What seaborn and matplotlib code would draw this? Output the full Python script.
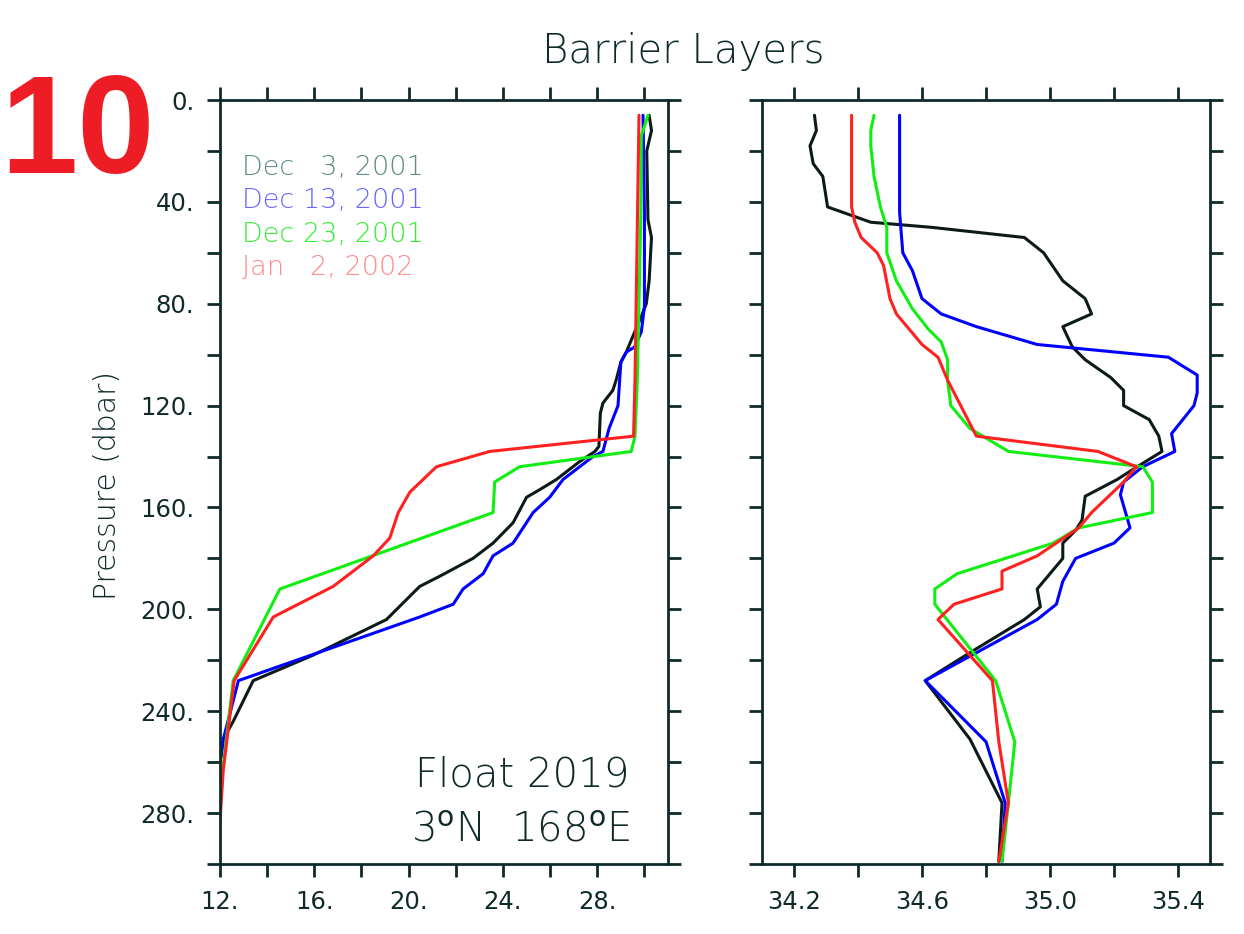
import numpy as np
import pandas as pd
import matplotlib
matplotlib.use("Agg")
import matplotlib.pyplot as plt
import seaborn as sns

# ---------------- data ----------------
dates = ["Dec   3, 2001", "Dec 13, 2001", "Dec 23, 2001", "Jan   2, 2002"]

# Temperature profiles (left panel)
p_t_dec03 = [6, 12, 20, 47, 54, 71, 80, 85, 93, 99, 103, 110, 114, 119, 123, 136, 138, 142,
             149, 153, 156, 166, 174, 180, 187, 191, 204, 218, 228, 244, 251, 258]
t_dec03 = [30.2, 30.3, 30.1, 30.15, 30.3, 30.2, 30.08, 29.87, 29.5, 29.23, 29.0, 28.8, 28.66,
           28.24, 28.13, 28.07, 27.9, 27.25, 26.27, 25.56, 25.0, 24.43, 23.58, 22.73, 21.32,
           20.47, 19.06, 15.95, 13.41, 12.56, 12.14, 12.05]

p_t_dec13 = [6, 44, 81, 91, 97, 99, 103, 110, 120, 129, 138, 140, 149, 156, 162, 174, 179,
             186, 192, 198, 203, 228, 251, 260]
t_dec13 = [29.94, 30.0, 30.0, 29.87, 29.58, 29.23, 29.0, 28.95, 28.88, 28.5, 28.24, 27.82,
           26.55, 25.98, 25.28, 24.43, 23.58, 23.16, 22.31, 21.89, 20.47, 12.78, 12.14, 12.0]

p_t_dec23 = [6, 14, 44, 110, 132, 138, 144, 150, 162, 192, 228, 261, 270]
t_dec23 = [30.15, 29.87, 29.85, 29.7, 29.6, 29.44, 24.71, 23.65, 23.58, 14.54, 12.56, 12.14, 12.0]

p_t_jan02 = [6, 110, 132, 138, 144, 154, 162, 172, 179, 191, 203, 228, 263, 283]
t_jan02 = [29.77, 29.6, 29.54, 23.44, 21.18, 20.05, 19.56, 19.2, 18.5, 16.8, 14.26, 12.6,
           12.14, 12.0]

# Salinity profiles (right panel)
p_s_dec03 = [6, 12, 18, 25, 30, 42, 48, 50, 54, 60, 71, 78, 84, 89, 97, 102, 109, 114, 120,
             125.5, 132, 138, 145, 149, 155.6, 165, 169, 174, 180, 192, 199, 204, 217, 228,
             251, 276, 299]
s_dec03 = [34.264, 34.27, 34.25, 34.26, 34.29, 34.305, 34.44, 34.63, 34.92, 34.98, 35.04,
           35.11, 35.13, 35.04, 35.07, 35.11, 35.19, 35.23, 35.23, 35.31, 35.34, 35.35, 35.26,
           35.21, 35.11, 35.10, 35.08, 35.04, 35.04, 34.96, 34.97, 34.92, 34.75, 34.61,
           34.75, 34.85, 34.84]

p_s_dec13 = [6, 44, 60, 67, 78, 84, 89, 96, 101, 108, 115, 120, 131, 138, 144, 150, 155, 168,
             174, 180, 189, 198, 204, 228, 252, 276, 299]
s_dec13 = [34.53, 34.53, 34.54, 34.57, 34.60, 34.66, 34.77, 34.96, 35.37, 35.46, 35.46, 35.45,
           35.38, 35.39, 35.29, 35.23, 35.22, 35.25, 35.20, 35.08, 35.04, 35.02, 34.96, 34.61,
           34.80, 34.86, 34.85]

p_s_dec23 = [6, 12, 18, 30, 42, 50, 60, 71, 82, 90, 95, 102, 110, 120, 129, 138, 144, 150,
             162, 168, 174, 186, 192, 198, 228, 252, 276, 299]
s_dec23 = [34.45, 34.44, 34.44, 34.45, 34.47, 34.49, 34.49, 34.52, 34.57, 34.62, 34.66, 34.68,
           34.68, 34.69, 34.75, 34.87, 35.29, 35.32, 35.32, 35.09, 35.01, 34.71, 34.64, 34.64,
           34.83, 34.89, 34.87, 34.85]

p_s_jan02 = [6, 42, 48, 54, 60, 65, 78, 84, 96, 101, 110, 132, 138, 144, 150, 162, 168, 179,
             185, 192, 198, 204, 228, 252, 276, 299]
s_jan02 = [34.38, 34.38, 34.39, 34.41, 34.46, 34.48, 34.50, 34.52, 34.60, 34.65, 34.68, 34.77,
           35.15, 35.27, 35.23, 35.13, 35.09, 34.96, 34.85, 34.85, 34.70, 34.65, 34.82, 34.84,
           34.87, 34.84]

temp_x_ticks = [12, 14, 16, 18, 20, 22, 24, 26, 28, 30]
temp_x_labels = ["12.", "", "16.", "", "20.", "", "24.", "", "28.", ""]
sal_x_ticks = [34.2, 34.4, 34.6, 34.8, 35.0, 35.2, 35.4]
sal_x_labels = ["34.2", "", "34.6", "", "35.0", "", "35.4"]
p_ticks = list(range(0, 301, 20))
p_labels = ["0.", "", "40.", "", "80.", "", "120.", "", "160.", "", "200.", "", "240.", "",
            "280.", ""]

# ---------------- styling ----------------
line_colors = ["#0c1a1a", "#0000ff", "#11ee11", "#ff2020"]
legend_colors = ["#5e8c86", "#6666ff", "#33ee33", "#ff8a8a"]
ink = "#0f2a2a"

sns.set_style("ticks")
plt.rcParams["font.family"] = ["DejaVu Sans"]
plt.rcParams["mathtext.fontset"] = "dejavusans"

temp_df = pd.concat([
    pd.DataFrame({"T": t, "p": p, "date": d, "order": np.arange(len(p))})
    for t, p, d in zip([t_dec03, t_dec13, t_dec23, t_jan02],
                       [p_t_dec03, p_t_dec13, p_t_dec23, p_t_jan02], dates)
], ignore_index=True)
sal_df = pd.concat([
    pd.DataFrame({"S": s, "p": p, "date": d, "order": np.arange(len(p))})
    for s, p, d in zip([s_dec03, s_dec13, s_dec23, s_jan02],
                       [p_s_dec03, p_s_dec13, p_s_dec23, p_s_jan02], dates)
], ignore_index=True)

palette = dict(zip(dates, line_colors))

fig = plt.figure(figsize=(12.44, 9.34), dpi=100)
fig.patch.set_facecolor("white")
ax1 = fig.add_axes([220 / 1244, 1 - 864 / 934, 448 / 1244, 764 / 934])
ax2 = fig.add_axes([762 / 1244, 1 - 864 / 934, 448 / 1244, 764 / 934])

sns.lineplot(data=temp_df, x="T", y="p", hue="date", palette=palette, estimator=None,
             sort=False, units="date", legend=False, ax=ax1, linewidth=2.2)
sns.lineplot(data=sal_df, x="S", y="p", hue="date", palette=palette, estimator=None,
             sort=False, units="date", legend=False, ax=ax2, linewidth=2.2)

for ax in (ax1, ax2):
    ax.set_ylim(300, 0)
    ax.set_yticks(p_ticks)
    ax.set_xlabel("")
    ax.set_ylabel("")
    for sp in ax.spines.values():
        sp.set_visible(True)
        sp.set_linewidth(2.0)
        sp.set_color(ink)
    ax.tick_params(which="both", direction="out", top=True, right=True, bottom=True,
                   left=True, labeltop=False, labelright=False, length=9.5, width=2.0,
                   color=ink, labelcolor=ink, labelsize=17.5, pad=9)

ax1.set_xlim(12, 31)
ax1.set_xticks(temp_x_ticks)
ax1.set_xticklabels(temp_x_labels)
ax1.set_yticklabels(p_labels)

ax2.set_xlim(34.1, 35.5)
ax2.set_xticks(sal_x_ticks)
ax2.set_xticklabels(sal_x_labels)
ax2.set_yticklabels([""] * len(p_ticks))

# legend as coloured text
legend_y = [0.9018, 0.8586, 0.8141, 0.7709]
for d, c, y in zip(dates, legend_colors, legend_y):
    ax1.text(0.049, y, d, transform=ax1.transAxes, color=c, fontsize=19.5,
             fontweight="light", ha="left", va="baseline")

ax1.text(0.915, 0.1008, "Float 2019", transform=ax1.transAxes, color=ink, fontsize=29,
         fontweight="light", ha="right", va="baseline")
ax1.text(0.915, 0.0288, r"3$^{\mathrm{o}}$N  168$^{\mathrm{o}}$E", transform=ax1.transAxes,
         color=ink, fontsize=29, fontweight="light", ha="right", va="baseline")

fig.text(683.5 / 1244, 1 - 63 / 934, "Barrier Layers", color=ink, fontsize=29,
         fontweight="light", ha="center", va="baseline")
fig.text(108 / 1244, 1 - 485 / 934, "Pressure (dbar)", color=ink, fontsize=21.5,
         fontweight="light", rotation=90, ha="center", va="center")
fig.text(0.0, 1 - 173 / 934, "10", color="#ee1c25", fontsize=100,
         fontweight="bold", family=["Liberation Sans", "DejaVu Sans"], ha="left",
         va="baseline")

fig.savefig("out.png", dpi=100, facecolor="white")
